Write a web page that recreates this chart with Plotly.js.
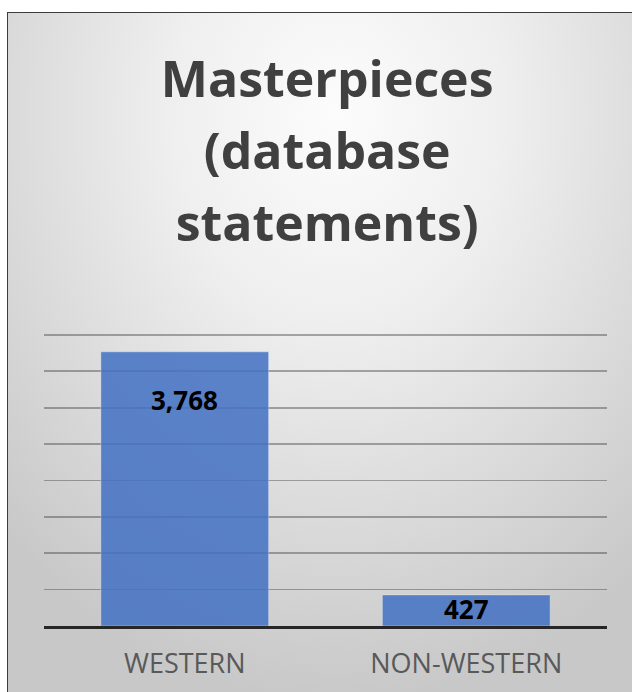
<!DOCTYPE html>
<html>
<head>
<meta charset="utf-8">
<script src="https://cdn.plot.ly/plotly-3.0.1.min.js"></script>
<style>
  html, body { margin: 0; padding: 0; background: #ffffff; }
  #wrap { position: relative; width: 632px; height: 692px; overflow: hidden; }
  #bg {
    position: absolute; left: 7px; top: 12px; width: 660px; height: 720px;
    border: 1.5px solid #3c3c3c; box-sizing: border-box;
    background: radial-gradient(ellipse 72% 82% at 50% 14%, #fcfcfc 0%, #efefef 35%, #dbdbdb 68%, #c8c8c8 100%);
  }
  #chart { position: absolute; left: 0; top: 0; width: 632px; height: 692px; }
</style>
</head>
<body>
<div id="wrap">
  <div id="bg"></div>
  <div id="chart"></div>
</div>
<script>
// ---- data ----
const categories = ["WESTERN", "NON-WESTERN"];
const values = [3768, 427];
const valueLabels = ["3,768", "427"];
const titleLines = ["Masterpieces", "(database", "statements)"];

// ---- chart ----
const labelShift = [-48, -14]; // label offsets below each bar's top (px)

const trace = {
  type: "bar",
  x: categories,
  y: values,
  marker: { color: "#4472C4", opacity: 0.86, line: { color: "rgba(255,255,255,0.35)", width: 1 } },
  hoverinfo: "none"
};

const annotations = categories.map((c, i) => ({
  x: c, y: values[i], xref: "x", yref: "y",
  text: valueLabels[i], showarrow: false,
  yanchor: "middle", yshift: labelShift[i],
  font: { family: "Open Sans", size: 26, color: "#000000", weight: 700 }
}));

const layout = {
  width: 632, height: 692,
  paper_bgcolor: "rgba(0,0,0,0)",
  plot_bgcolor: "rgba(0,0,0,0)",
  margin: { l: 44, r: 25, t: 333, b: 66 },
  bargap: 0.404,
  showlegend: false,
  title: {
    text: titleLines.map(s => '<span style="font-size:50px">' + s + '</span>').join("<br>"),
    font: { family: "Open Sans", size: 55.4, color: "#404040", weight: 700 },
    x: 0.503, xanchor: "center", xref: "paper",
    y: 1 - 97 / 692, yanchor: "top", yref: "container"
  },
  xaxis: {
    type: "category",
    showline: true, linecolor: "#262626", linewidth: 3,
    ticks: "", showgrid: false, zeroline: false,
    tickfont: { family: "Open Sans", size: 27, color: "#595959" },
    ticklabelstandoff: 12
  },
  yaxis: {
    range: [0, 4027], dtick: 500, tick0: 0,
    showticklabels: false, ticks: "",
    showgrid: true, gridcolor: "rgba(60,60,60,0.42)", gridwidth: 1.7,
    zeroline: false, showline: false
  },
  annotations: annotations
};

Plotly.newPlot("chart", [trace], layout, { displayModeBar: false, staticPlot: true });
</script>
</body>
</html>
